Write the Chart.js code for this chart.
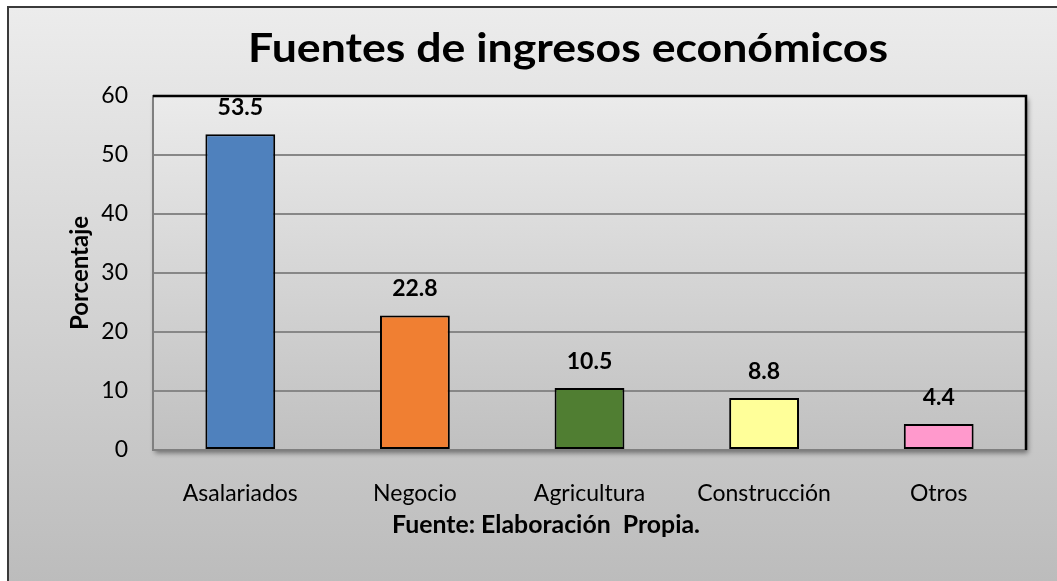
<!DOCTYPE html>
<html>
<head>
<meta charset="utf-8">
<title>Fuentes de ingresos económicos</title>
<script src="https://cdn.jsdelivr.net/npm/chart.js@4.4.0/dist/chart.umd.min.js"></script>
<style>
body { margin: 0; background: #fff; }
canvas { display: block; }
</style>
</head>
<body>
<canvas id="canvas1" width="1057" height="581"></canvas>
<script>
// DATA
var categorias = ['Asalariados', 'Negocio', 'Agricultura', 'Construcción', 'Otros']
var porcentajes = [53.5, 22.8, 10.5, 8.8, 4.4]
var colores = ['#4f81bd', '#f07f32', '#507e32', '#ffff99', '#ff99cc']
var yMin = 0
var yMax = 60
var yPaso = 10
var titulo = 'Fuentes de ingresos económicos'
var tituloY = 'Porcentaje'
var fuente = 'Fuente: Elaboración  Propia.'

var FONT = 'Lato, "Open Sans", sans-serif'

// draws a bold text centred at x, stretched sideways to the given width
function drawText(ctx, text, size, x, y, width) {
    ctx.save()
    ctx.font = 'bold ' + size + 'px ' + FONT
    var w = ctx.measureText(text).width
    var k = width / w
    ctx.translate(x, y)
    ctx.scale(k, 1)
    ctx.fillText(text, 0, 0)
    ctx.restore()
}

// background of the whole chart and of the plot area
const fondo = {
    id: 'fondo',
    beforeDraw(chart) {
        const ctx = chart.ctx
        const a = chart.chartArea
        ctx.save()
        ctx.fillStyle = '#fff'
        ctx.fillRect(0, 0, chart.width, chart.height)
        var g = ctx.createLinearGradient(0, 8, 0, chart.height)
        g.addColorStop(0, '#ececec')
        g.addColorStop(1, '#bcbcbc')
        ctx.fillStyle = g
        ctx.fillRect(8, 7, chart.width, chart.height)
        ctx.strokeStyle = '#3a3a3a'
        ctx.lineWidth = 2
        ctx.strokeRect(8, 7, chart.width + 10, chart.height + 10)

        // plot area with a soft shadow
        ctx.shadowColor = 'rgba(0,0,0,0.45)'
        ctx.shadowBlur = 5
        ctx.shadowOffsetX = 2
        ctx.shadowOffsetY = 3
        var g2 = ctx.createLinearGradient(0, a.top, 0, a.bottom)
        g2.addColorStop(0, '#ebebeb')
        g2.addColorStop(1, '#c0c0c0')
        ctx.fillStyle = g2
        ctx.fillRect(a.left, a.top, a.right - a.left, a.bottom - a.top)
        ctx.restore()
    },
    afterDraw(chart) {
        const ctx = chart.ctx
        const a = chart.chartArea
        ctx.save()
        // black top and right edge of the plot area
        ctx.strokeStyle = '#000'
        ctx.lineWidth = 2.5
        ctx.beginPath()
        ctx.moveTo(a.left, a.top)
        ctx.lineTo(a.right, a.top)
        ctx.lineTo(a.right, a.bottom)
        ctx.stroke()

        ctx.fillStyle = '#000'
        ctx.textAlign = 'center'
        ctx.textBaseline = 'alphabetic'
        drawText(ctx, titulo, 41, 568, 62, 640)
        drawText(ctx, fuente, 25, 546, 533, 308)
        ctx.restore()
    }
}

// value labels above the bars
const etiquetas = {
    id: 'etiquetas',
    afterDatasetsDraw(chart) {
        const ctx = chart.ctx
        ctx.save()
        ctx.fillStyle = '#000'
        ctx.font = 'bold 23px ' + FONT
        ctx.textAlign = 'center'
        ctx.textBaseline = 'alphabetic'
        chart.getDatasetMeta(0).data.forEach((bar, i) => {
            ctx.fillText(porcentajes[i].toFixed(1), bar.x, bar.y - 19)
        })
        ctx.restore()
    }
}

const chart1 = document.getElementById('canvas1').getContext('2d')
const myChart1 = new Chart(chart1, {
    type: 'bar',
    data: {
        labels: categorias,
        datasets: [{
            label: 'Porcentaje',
            data: porcentajes,
            backgroundColor: colores,
            borderColor: '#000',
            borderWidth: 2,
            borderSkipped: false,
            barPercentage: 0.4,
            categoryPercentage: 1
        }]
    },
    options: {
        responsive: false,
        animation: false,
        layout: {
            padding: { top: 96, right: 31, left: 0, bottom: 0 }
        },
        plugins: {
            legend: { display: false },
            tooltip: { enabled: false },
            title: { display: false }
        },
        scales: {
            x: {
                grid: { display: false },
                border: { color: '#7f7f7f', width: 2 },
                ticks: {
                    color: '#000',
                    padding: 22,
                    font: { family: FONT, size: 23 }
                },
                afterFit: function (scale) { scale.height = 131 }
            },
            y: {
                min: yMin,
                max: yMax,
                ticks: {
                    stepSize: yPaso,
                    color: '#000',
                    padding: 25,
                    font: { family: FONT, size: 23 }
                },
                grid: { color: '#878787', lineWidth: 2, drawTicks: false },
                border: { color: '#7f7f7f', width: 2 },
                title: {
                    display: true,
                    text: tituloY,
                    color: '#000',
                    padding: { top: 66, bottom: 0 },
                    font: { family: FONT, size: 24, weight: 'bold' }
                },
                afterFit: function (scale) { scale.width = 153 }
            }
        }
    },
    plugins: [fondo, etiquetas]
})
</script>
</body>
</html>
